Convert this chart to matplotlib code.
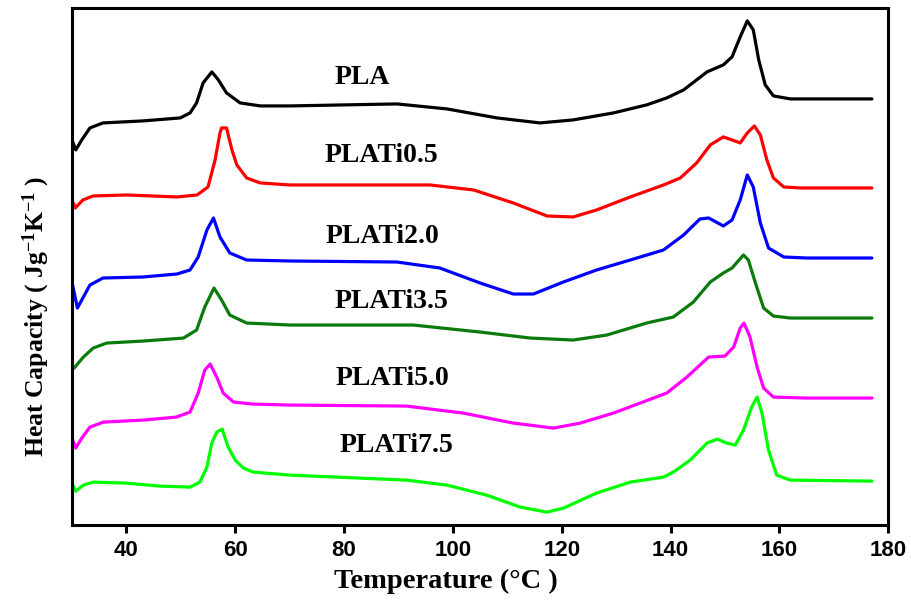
import matplotlib
matplotlib.use("Agg")
import matplotlib.pyplot as plt

plt.rcParams['font.family'] = ['Liberation Serif', 'DejaVu Serif']
plt.rcParams['mathtext.fontset'] = 'custom'
plt.rcParams['mathtext.rm'] = 'Liberation Serif:bold'
plt.rcParams['mathtext.bf'] = 'Liberation Serif:bold'
plt.rcParams['mathtext.it'] = 'Liberation Serif:bold'

# DSC curves (heat capacity, arbitrary offset units)
t_pla = [30, 30.7, 31.8, 33.3, 35.7, 43, 49.9, 51.7, 52.9, 54.1, 55.7, 56.9, 58.4, 60.9,
         64.6, 70.1, 89.7, 98.9, 108.1, 116, 122.1, 129.5, 135.6, 139.3, 142.4, 146.7,
         149.7, 151.3, 152.8, 154.1, 155.2, 156.2, 157.4, 158.9, 162, 170, 177]
cp_pla = [385, 375, 385, 397, 402, 404, 407, 412, 422, 442, 453, 445, 432, 422,
          419, 419, 421, 416, 407, 402, 405, 412, 420, 427, 435, 453,
          460, 468, 488, 504, 495, 465, 440, 429, 426, 426, 426]

t_05 = [30, 30.6, 32, 33.9, 40.1, 49.3, 53, 55, 56.3, 57.2, 57.5, 58.4, 59.4, 60.3, 62.1,
        64.6, 70.1, 95.8, 103.8, 111.1, 117.3, 122.1, 126.4, 132.6, 138.7, 141.8, 144.8,
        147.3, 149.7, 151.3, 152.8, 154.1, 155.4, 156.5, 157.7, 158.9, 160.8, 163.8, 177]
cp_05 = [325, 317, 325, 329, 330, 328, 330, 338, 365, 392, 397, 397, 375, 360, 347,
         342, 340, 340, 335, 322, 309, 308, 315, 328, 340, 347, 362,
         380, 388, 385, 382, 392, 399, 390, 365, 347, 338, 337, 337]

t_20 = [30, 31, 32.1, 33.3, 35.7, 43, 49.3, 51.7, 53.2, 54.8, 56, 57.2, 59, 62.1, 70.1,
        89.7, 97.6, 105, 111.1, 114.8, 120.3, 126.4, 132.6, 138.7, 142.4, 145.4, 147,
        149.7, 151.3, 152.8, 154.1, 155.2, 156.5, 158, 160.8, 165, 177]
cp_20 = [243, 217, 228, 240, 247, 248, 251, 255, 268, 295, 307, 288, 272, 265, 264,
         263, 257, 242, 231, 231, 243, 255, 265, 275, 290, 306, 307,
         299, 305, 325, 350, 338, 302, 277, 268, 267, 267]

t_35 = [30, 30.4, 32.1, 33.9, 36.4, 43.1, 50.5, 52.9, 54.4, 56.1, 57.5, 59, 62.1, 70.1,
        92.7, 105, 114.2, 122.1, 128.3, 135.6, 140.5, 144.2, 147.3, 149.7, 151.3, 153.4,
        154.3, 155.6, 157.1, 158.9, 162, 177]
cp_35 = [160, 157, 168, 177, 182, 184, 187, 195, 218, 237, 225, 210, 202, 200,
         200, 193, 187, 185, 190, 202, 208, 223, 243, 252, 257, 270,
         265, 242, 217, 209, 207, 207]

t_50 = [30, 30.7, 31.8, 33.3, 35.8, 43.1, 49.2, 51.7, 53.2, 54.4, 55.4, 56.6, 57.8, 59.7,
        63.3, 70.1, 91.5, 101.9, 111.1, 118.5, 123.4, 129.5, 134.4, 139.3, 143, 147, 150,
        151.6, 152.8, 153.5, 154.6, 155.9, 157.1, 158.9, 165, 177]
cp_50 = [87, 77, 87, 98, 103, 105, 108, 113, 132, 155, 161, 148, 132, 123,
         121, 120, 119, 112, 102, 97, 102, 112, 122, 132, 148, 168, 169,
         178, 197, 202, 188, 158, 137, 128, 127, 127]

t_75 = [30, 30.7, 32.1, 33.9, 40, 46.2, 51.7, 53.5, 54.8, 55.7, 56.6, 57.6, 58.7, 60,
        61.5, 63.3, 70.1, 91.5, 98.9, 106.2, 112.4, 117.3, 120.3, 126.4, 132.6, 138.7,
        140.5, 143.6, 146.7, 148.6, 150.3, 151.9, 153.4, 154.9, 155.9, 156.8, 158, 159.5,
        162, 177]
cp_75 = [42, 34, 40, 43, 42, 39, 38, 43, 58, 82, 93, 96, 78, 65,
         57, 53, 50, 45, 40, 30, 18, 13, 17, 32, 43, 48,
         53, 65, 82, 86, 82, 80, 95, 118, 128, 112, 75, 50,
         45, 44]

names = ['PLA', 'PLATi0.5', 'PLATi2.0', 'PLATi3.5', 'PLATi5.0', 'PLATi7.5']
colors = ['black', '#ff0000', '#0000ff', '#0a7a0a', '#ff00ff', '#00ff00']
label_t = [83.3, 86.8, 87.0, 88.8, 88.8, 89.6]
label_cp = [447, 369, 288, 224, 147, 80]
curves = [(t_pla, cp_pla), (t_05, cp_05), (t_20, cp_20),
          (t_35, cp_35), (t_50, cp_50), (t_75, cp_75)]

fig = plt.figure(figsize=(9.11, 6.05), dpi=100)
ax = fig.add_axes([0.079, 0.132, 0.896, 0.855])

for (t, cp), color, name, lx, ly in zip(curves, colors, names, label_t, label_cp):
    ax.plot(t, cp, color=color, lw=2.3, solid_joinstyle='round', solid_capstyle='round')
    ax.text(lx, ly, name, ha='center', va='center', fontsize=20, fontweight='bold')

ax.set_xlim(30, 180)
ax.set_ylim(0, 517)
ax.set_xticks([40, 60, 80, 100, 120, 140, 160, 180])
ax.set_yticks([])
ax.tick_params(axis='x', direction='out', length=6, width=2.2, pad=5)
for lab in ax.get_xticklabels():
    lab.set_fontfamily('Liberation Sans')
    lab.set_fontweight('bold')
    lab.set_fontsize(16)
for sp in ax.spines.values():
    sp.set_linewidth(2.2)

ax.set_xlabel('Temperature (°C )', fontsize=20.5, fontweight='bold')
ax.xaxis.set_label_coords(0.458, -0.085)
ax.set_ylabel(r'Heat Capacity ( Jg$^{-1}$K$^{-1}$ )', fontsize=18.5, fontweight='bold')
ax.yaxis.set_label_coords(-0.025, 0.404)

fig.savefig('out.png', dpi=100)
